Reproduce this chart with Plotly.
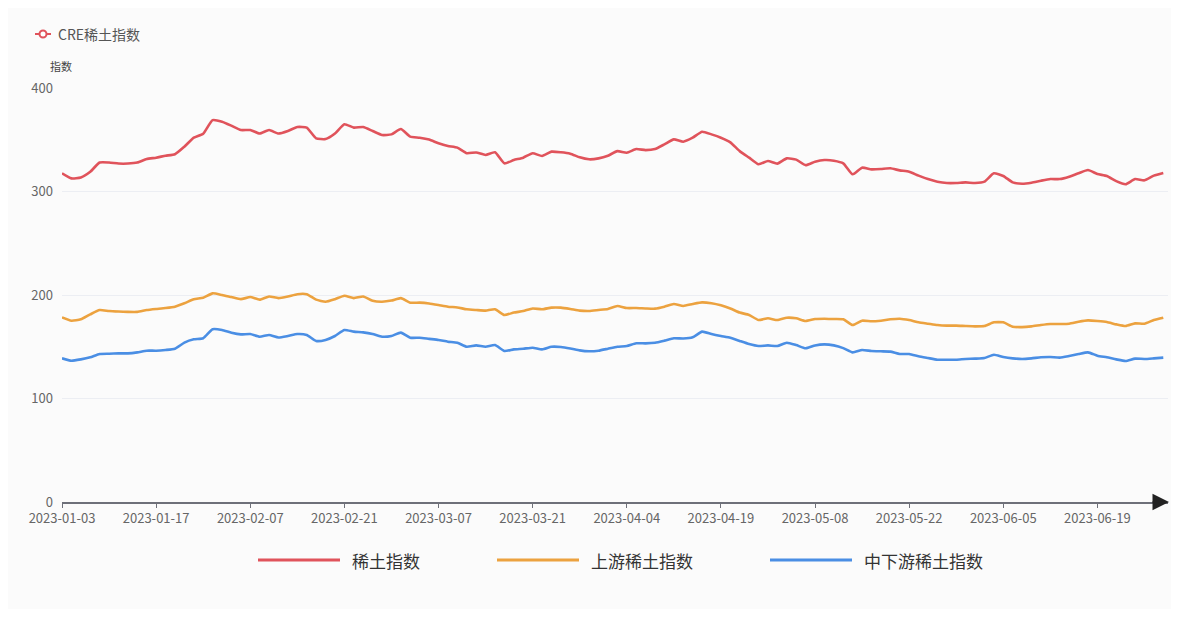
import pandas as pd
import plotly.graph_objects as go

# ---- categories (trading days) ----
holidays = ["2023-01-23", "2023-01-24", "2023-01-25", "2023-01-26", "2023-01-27",
            "2023-04-05", "2023-05-01", "2023-05-02", "2023-05-03",
            "2023-06-22", "2023-06-23"]
dates = [d.strftime("%Y-%m-%d") for d in pd.bdate_range("2023-01-03", "2023-06-30")
         if d.strftime("%Y-%m-%d") not in holidays]

# ---- series values ----
rare_earth = [
    317.6, 312.7, 313.5, 319.0, 328.0, 328.0, 327.0, 327.0, 328.0, 331.4,
    332.7, 334.6, 336.0, 343.3, 352.0, 355.9, 369.0, 367.5, 363.6, 359.4,
    359.4, 356.0, 359.4, 356.0, 358.5, 362.3, 361.7, 351.4, 350.7, 356.0,
    365.0, 361.7, 362.3, 358.5, 354.6, 355.2, 360.4, 353.0, 352.0, 350.2,
    346.6, 344.0, 342.4, 337.0, 337.7, 335.3, 337.9, 327.2, 330.4, 332.7,
    337.0, 334.3, 338.5, 337.9, 336.5, 333.0, 331.1, 332.0, 334.6, 339.0,
    337.5, 341.0, 340.0, 341.0, 345.6, 350.4, 348.1, 352.0, 357.8, 355.2,
    352.0, 347.5, 339.0, 332.7, 326.3, 329.5, 326.9, 332.0, 330.8, 325.5,
    328.8, 330.4, 329.8, 327.2, 316.6, 323.0, 321.4, 321.7, 322.4, 320.4,
    319.1, 315.3, 312.0, 309.5, 308.2, 308.2, 308.8, 308.2, 309.5, 317.6,
    315.0, 308.8, 307.5, 308.5, 310.4, 312.0, 312.0, 314.3, 317.6, 320.8,
    316.9, 315.0, 310.0, 307.0, 312.0, 310.8, 315.3, 317.9,
]
upstream = [
    178.4, 175.2, 176.5, 181.3, 185.5, 184.5, 184.0, 183.7, 183.7, 185.5,
    186.5, 187.4, 188.7, 192.0, 195.8, 197.4, 201.6, 200.0, 198.0, 196.0,
    198.0, 195.5, 198.6, 197.0, 198.6, 200.8, 200.8, 195.5, 193.5, 196.0,
    199.3, 197.0, 198.6, 194.4, 193.5, 194.6, 197.0, 192.6, 192.6, 191.8,
    190.3, 188.7, 188.0, 186.2, 185.5, 184.9, 186.2, 180.7, 183.0, 184.5,
    187.0, 186.2, 187.8, 187.8, 186.5, 184.9, 184.5, 185.5, 186.5, 189.4,
    187.4, 187.4, 187.0, 186.8, 188.7, 191.3, 189.4, 191.3, 192.9, 192.0,
    190.0, 187.0, 183.0, 180.7, 175.8, 177.5, 175.8, 178.1, 177.5, 174.9,
    176.8, 177.1, 176.8, 176.5, 171.0, 175.2, 174.6, 175.2, 176.5, 177.1,
    175.8, 173.6, 172.3, 171.0, 170.4, 170.4, 170.0, 169.7, 170.0, 173.6,
    173.6, 169.4, 169.0, 169.7, 171.0, 172.0, 172.0, 172.3, 174.2, 175.5,
    174.9, 173.9, 171.6, 170.0, 172.6, 172.3, 175.8, 178.1,
]
midstream = [
    138.8, 136.5, 137.8, 139.8, 143.0, 143.3, 143.6, 143.6, 144.6, 146.2,
    146.2, 146.9, 148.1, 154.0, 157.2, 158.2, 166.9, 166.2, 163.6, 162.0,
    162.3, 159.7, 161.4, 159.0, 160.4, 162.3, 161.4, 155.6, 156.6, 160.4,
    166.2, 164.6, 163.9, 162.3, 159.7, 160.4, 163.6, 158.7, 158.7, 157.6,
    156.6, 154.9, 153.9, 150.0, 151.3, 150.0, 151.6, 145.9, 147.5, 148.1,
    149.1, 147.5, 150.0, 149.8, 148.4, 146.5, 145.6, 146.2, 148.1, 150.0,
    150.7, 153.3, 153.3, 153.9, 155.9, 158.2, 157.9, 159.1, 164.6, 162.3,
    160.4, 158.7, 155.6, 152.6, 150.7, 151.3, 150.7, 153.9, 151.6, 148.5,
    151.3, 152.3, 151.3, 148.7, 144.6, 146.9, 145.9, 145.6, 145.3, 143.0,
    143.0, 140.8, 139.1, 137.5, 137.5, 137.5, 138.2, 138.5, 139.1, 142.3,
    140.1, 138.8, 138.2, 138.8, 139.8, 140.1, 139.5, 141.1, 143.0, 144.6,
    141.4, 139.8, 137.8, 136.2, 138.5, 138.2, 138.8, 139.5,
]

series_names = ["稀土指数", "上游稀土指数", "中下游稀土指数"]
series_colors = ["#e0535b", "#eca23f", "#4a8ee4"]
tick_dates = dates[::10]
y_ticks = [0, 100, 200, 300, 400]

FONT = "Noto Sans CJK SC, Noto Sans, sans-serif"

# page offset (browser body margin) and plot area in absolute page pixels
OFF = 8
FIG_W, FIG_H = 1163, 601
L, R, T, B = 62, 1168, 88, 502
W, H = R - L, B - T


def px_x(px):
    return (px - L) / W


def px_y(py):
    return (B - py) / H


fig = go.Figure()
for name, vals, col in zip(series_names, [rare_earth, upstream, midstream], series_colors):
    fig.add_trace(go.Scatter(
        x=dates, y=vals, name=name, mode="lines",
        line=dict(color=col, width=2.6, shape="spline", smoothing=0.5),
        showlegend=False,
    ))

fig.update_layout(
    width=FIG_W, height=FIG_H,
    margin=dict(l=L - OFF, r=FIG_W - (R - OFF), t=T - OFF, b=FIG_H - (B - OFF), pad=0),
    paper_bgcolor="#fbfbfb", plot_bgcolor="#fbfbfb",
    font=dict(family=FONT, color="#666"),
    showlegend=False,
)
fig.update_xaxes(
    type="category", range=[0, 117.5],
    tickmode="array", tickvals=tick_dates, ticktext=tick_dates,
    ticks="outside", ticklen=4, tickcolor="#6e7079", tickwidth=1,
    showline=True, linecolor="#6e7079", linewidth=1.5,
    showgrid=False, zeroline=False,
    tickfont=dict(size=13, color="#666"),
)
fig.update_yaxes(
    range=[0, 400], tickmode="array", tickvals=y_ticks,
    showgrid=True, gridcolor="#eceef3", gridwidth=1,
    zeroline=False, showline=False, ticks="",
    ticklabelstandoff=8,
    tickfont=dict(size=13, color="#666"),
)

# x-axis arrow head
fig.add_annotation(
    x=px_x(1169), y=0, xref="paper", yref="paper",
    ax=-18, ay=0, showarrow=True, arrowhead=2, arrowsize=2.2,
    arrowwidth=1.5, arrowcolor="#222", text="",
)

# y-axis title
fig.add_annotation(
    x=px_x(48), y=px_y(66), xref="paper", yref="paper",
    text="指数", showarrow=False, xanchor="left", yanchor="middle",
    font=dict(size=11, color="#444"),
)

# top-left legend "CRE稀土指数"
fig.add_shape(type="line", xref="paper", yref="paper",
              x0=px_x(35), x1=px_x(51), y0=px_y(34), y1=px_y(34),
              line=dict(color="#e0535b", width=2))
fig.add_shape(type="circle", xref="paper", yref="paper",
              x0=px_x(39.5), x1=px_x(46.5), y0=px_y(37.5), y1=px_y(30.5),
              line=dict(color="#e0535b", width=2), fillcolor="#ffffff")
fig.add_annotation(
    x=px_x(56), y=px_y(34), xref="paper", yref="paper",
    text="CRE稀土指数", showarrow=False, xanchor="left", yanchor="middle",
    font=dict(size=14, color="#555"),
)

# bottom legend
legend_x = [258, 497, 770]
for name, col, lx in zip(series_names, series_colors, legend_x):
    fig.add_shape(type="line", xref="paper", yref="paper",
                  x0=px_x(lx), x1=px_x(lx + 82), y0=px_y(560), y1=px_y(560),
                  line=dict(color=col, width=3))
    fig.add_annotation(
        x=px_x(lx + 92), y=px_y(560), xref="paper", yref="paper",
        text=name, showarrow=False, xanchor="left", yanchor="middle",
        font=dict(size=17, color="#333"),
    )

fig.write_html("out.html")
